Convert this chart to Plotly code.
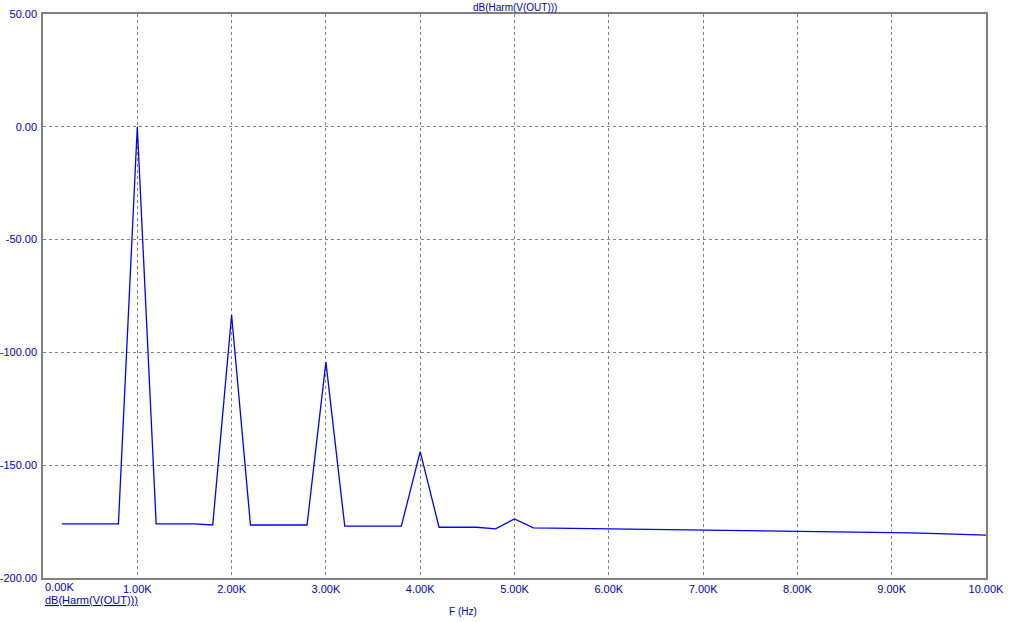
import plotly.graph_objects as go

freq_hz = [200, 400, 600, 800, 1000, 1200, 1400, 1600, 1800, 2000,
           2200, 2400, 2600, 2800, 3000, 3200, 3400, 3600, 3800, 4000,
           4200, 4400, 4600, 4800, 5000, 5200, 5400, 5600, 5800, 6000,
           6200, 6400, 6600, 6800, 7000, 7200, 7400, 7600, 7800, 8000,
           8200, 8400, 8600, 8800, 9000, 9200, 9400, 9600, 9800, 10000]
db_harm = [-176.0, -176.0, -176.0, -176.0, 0.0, -176.0, -176.0, -176.0, -176.5, -83.4,
           -176.5, -176.5, -176.5, -176.5, -104.3, -177.0, -177.0, -177.0, -177.0, -144.0,
           -177.5, -177.5, -177.5, -178.2, -173.8, -177.8, -177.9, -178.0, -178.1, -178.3,
           -178.4, -178.5, -178.6, -178.7, -178.8, -178.9, -179.0, -179.1, -179.2, -179.3,
           -179.4, -179.5, -179.6, -179.7, -179.8, -180.0, -180.2, -180.4, -180.7, -181.0]

x_tick_vals = [0, 1000, 2000, 3000, 4000, 5000, 6000, 7000, 8000, 9000, 10000]
x_tick_text = ["", "1.00K", "2.00K", "3.00K", "4.00K", "5.00K",
               "6.00K", "7.00K", "8.00K", "9.00K", "10.00K"]
x_first_label = "0.00K"
y_tick_vals = [50, 0, -50, -100, -150, -200]
y_tick_text = ["50.00", "0.00", "-50.00", "-100.00", "-150.00", "-200.00"]
trace_name = "dB(Harm(V(OUT)))"
x_title = "F (Hz)"

TXT = "#0000C8"
FONT = dict(family="Liberation Sans, Arial, sans-serif", size=11, color=TXT)

fig = go.Figure()
fig.add_trace(go.Scatter(x=freq_hz, y=db_harm, mode="lines",
                         line=dict(color="#0000FF", width=1.3),
                         name=trace_name, showlegend=False))

fig.update_layout(
    width=1012, height=622,
    margin=dict(l=43, r=26, t=14, b=44),
    plot_bgcolor="white", paper_bgcolor="white",
    font=FONT,
    xaxis=dict(range=[0, 10000], tickvals=x_tick_vals, ticktext=x_tick_text,
               showgrid=True, gridcolor="#808080", griddash="3px,3px", gridwidth=1,
               showline=True, linecolor="#808080", linewidth=1.5, mirror=True,
               ticks="", zeroline=False, tickfont=FONT, ticklabelstandoff=0,
               automargin=False),
    yaxis=dict(range=[-200, 50], tickvals=y_tick_vals, ticktext=y_tick_text,
               showgrid=True, gridcolor="#808080", griddash="3px,3px", gridwidth=1,
               showline=True, linecolor="#808080", linewidth=1.5, mirror=True,
               ticks="", zeroline=False, tickfont=FONT, ticklabelstandoff=2,
               automargin=False),
)

fig.add_annotation(x=0, y=-200, xref="x", yref="y", text=x_first_label,
                   showarrow=False, xanchor="left", yanchor="top", yshift=-1,
                   font=FONT)
fig.add_annotation(x=0.5, y=1, xref="paper", yref="paper", text=trace_name,
                   showarrow=False, xanchor="center", yanchor="bottom",
                   yshift=-1, font=dict(family=FONT["family"], size=10, color=TXT))
fig.add_annotation(x=0, y=0, xref="paper", yref="paper", text="<u>" + trace_name + "</u>",
                   showarrow=False, xanchor="left", yanchor="top", yshift=-14,
                   font=FONT)
fig.add_annotation(x=0.445, y=0, xref="paper", yref="paper", text=x_title,
                   showarrow=False, xanchor="center", yanchor="top", yshift=-26,
                   font=dict(family=FONT["family"], size=10, color=TXT))

fig.write_html("out.html")
